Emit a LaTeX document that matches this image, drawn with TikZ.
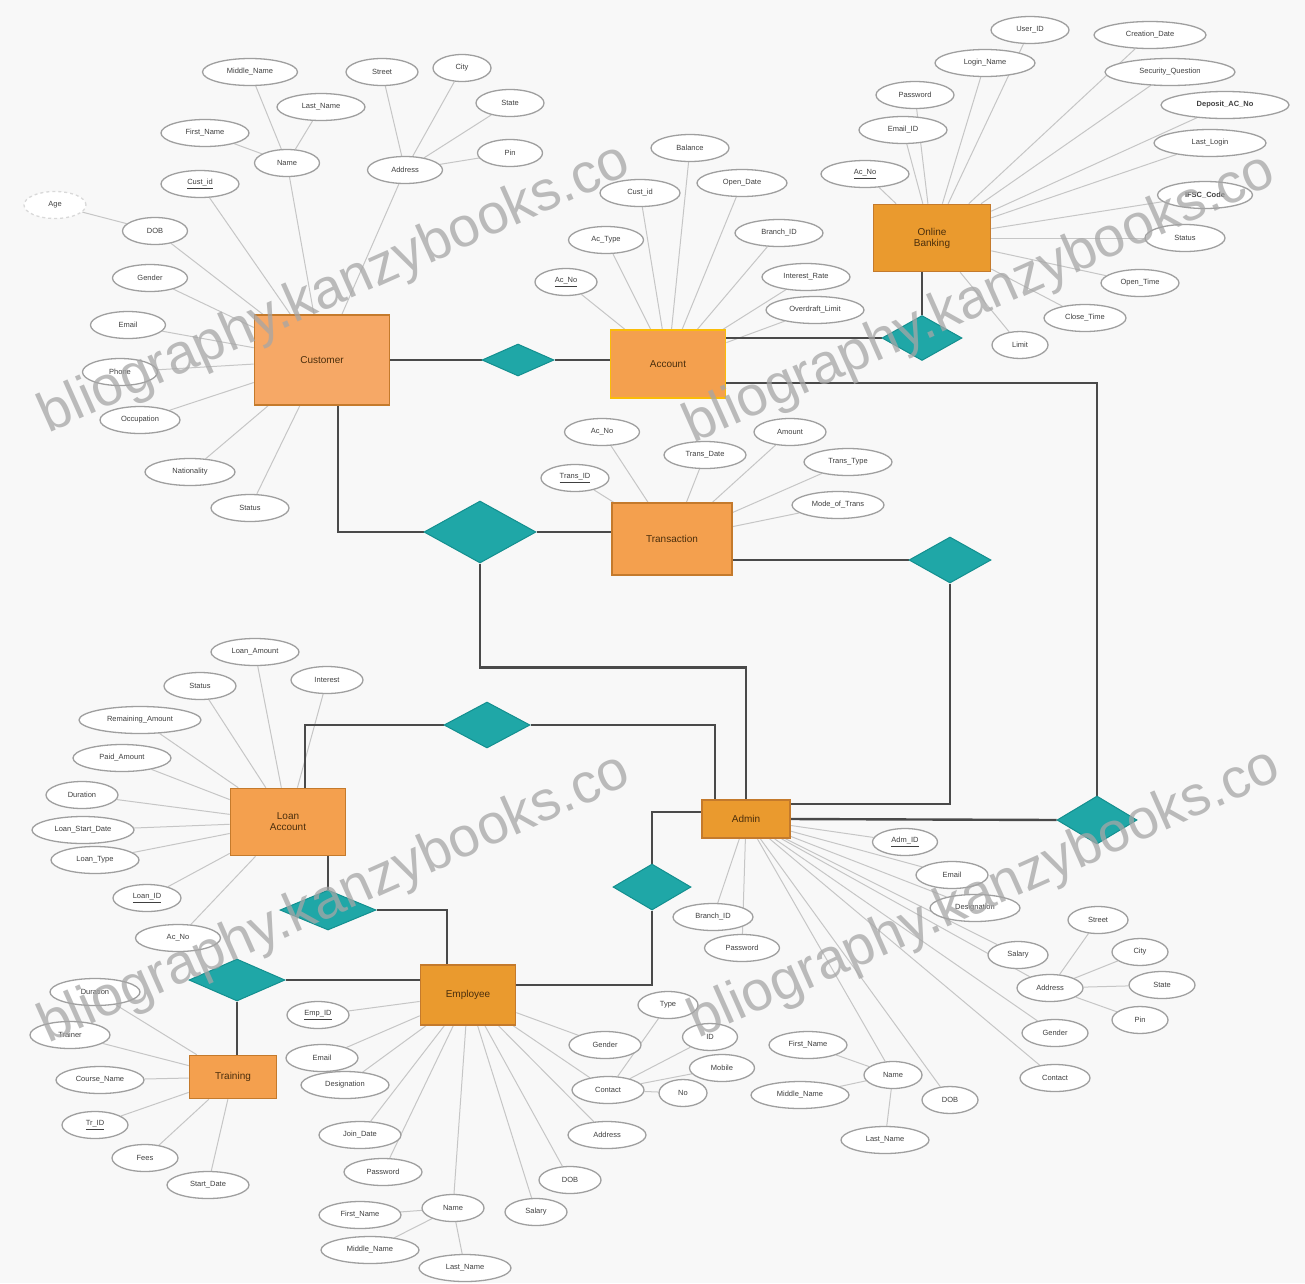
\documentclass[tikz,border=0pt]{standalone}
\usepackage{fontspec}
\setmainfont{Liberation Sans}
\setsansfont{Liberation Sans}
\usetikzlibrary{shapes.geometric}
\definecolor{bgc}{HTML}{F8F8F8}
\definecolor{relfill}{HTML}{1FA7A7}
\definecolor{reldraw}{HTML}{138F8F}
\definecolor{conn}{HTML}{4A4A4A}
\definecolor{entdraw}{HTML}{C47A2C}
\definecolor{entA}{HTML}{F6A866}
\definecolor{entB}{HTML}{F4A04E}
\definecolor{entC}{HTML}{EA9A2E}
\definecolor{enttext}{HTML}{4A2E0C}
\pgfdeclarelayer{bglayer}
\pgfdeclarelayer{linelayer}
\pgfsetlayers{bglayer,linelayer,main}
\tikzset{
  attr/.style={ellipse, draw=gray!75, line width=1.3pt, fill=white, minimum width=#1pt, minimum height=27pt, inner sep=0pt, font=\fontsize{7.5}{8}\selectfont, text=black!75},
  attr/.default=70,
  ent/.style={rectangle, draw=entdraw, line width=1.6pt, fill=entB, minimum width=#1pt, font=\fontsize{10}{11}\selectfont, text=enttext, align=center, inner sep=2pt},
  rel/.style={diamond, draw=reldraw, line width=1pt, fill=relfill, inner sep=0pt},
  conline/.style={draw=conn, line width=2.4pt},
  al/.style={draw=gray!45, line width=1pt},
  wm/.style={font=\fontsize{56}{60}\selectfont\sffamily, text=gray!70, opacity=0.75}
}
\begin{document}
\begin{tikzpicture}[x=1pt,y=-1pt]
\begin{pgfonlayer}{bglayer}
\fill[bgc] (0,0) rectangle (1305,1283);
\end{pgfonlayer}
\useasboundingbox (0,0) rectangle (1305,1283);

% ---------- entities ----------
\node[ent=135, minimum height=90pt, fill=entA] (cust) at (322,360) {Customer};
\node[ent=115, minimum height=68pt, fill=entB, draw=yellow!50!orange] (acc) at (668,364) {Account};
\node[ent=117, minimum height=67pt, fill=entC] (bank) at (932,238) {Online\\Banking};
\node[ent=120, minimum height=72pt, fill=entB] (trans) at (672,539) {Transaction};
\node[ent=115, minimum height=67pt, fill=entB] (loan) at (288,822) {Loan\\Account};
\node[ent=88, minimum height=38pt, fill=entC] (admin) at (746,819) {Admin};
\node[ent=95, minimum height=60pt, fill=entC] (emp) at (468,995) {Employee};
\node[ent=87, minimum height=43pt, fill=entB] (train) at (233,1077) {Training};

% ---------- relationships ----------
\node[rel, minimum width=72pt, minimum height=32pt] (d1) at (518,360) {};
\node[rel, minimum width=80pt, minimum height=45pt] (d2) at (922,338) {};
\node[rel, minimum width=112pt, minimum height=62pt] (d3) at (480,532) {};
\node[rel, minimum width=82pt, minimum height=46pt] (d4) at (950,560) {};
\node[rel, minimum width=86pt, minimum height=46pt] (d5) at (487,725) {};
\node[rel, minimum width=80pt, minimum height=48pt] (d6) at (1097,820) {};
\node[rel, minimum width=78pt, minimum height=46pt] (d7) at (652,887) {};
\node[rel, minimum width=96pt, minimum height=40pt] (d8) at (328,910) {};
\node[rel, minimum width=96pt, minimum height=42pt] (d9) at (237,980) {};

% ---------- Customer attributes ----------
\node[attr=65] (cname) at (287,163) {Name};
\node[attr=88] (cfn) at (205,133) {First\_Name};
\node[attr=95] (cmn) at (250,72) {Middle\_Name};
\node[attr=88] (cln) at (321,107) {Last\_Name};
\node[attr=75] (caddr) at (405,170) {Address};
\node[attr=72] (cst) at (382,72) {Street};
\node[attr=58] (ccity) at (462,68) {City};
\node[attr=68] (cstate) at (510,103) {State};
\node[attr=65] (cpin) at (510,153) {Pin};
\node[attr=78] (cid) at (200,184) {\underline{Cust\_id}};
\node[attr=65] (cdob) at (155,231) {DOB};
\node[attr=62, draw=gray!30, dashed] (cage) at (55,205) {Age};
\node[attr=75] (cgen) at (150,278) {Gender};
\node[attr=75] (cemail) at (128,325) {Email};
\node[attr=75] (cph) at (120,372) {Phone};
\node[attr=80] (cocc) at (140,420) {Occupation};
\node[attr=90] (cnat) at (190,472) {Nationality};
\node[attr=78] (cstat) at (250,508) {Status};

% ---------- Account attributes ----------
\node[attr=78] (abal) at (690,148) {Balance};
\node[attr=80] (acid) at (640,193) {Cust\_id};
\node[attr=90] (aopd) at (742,183) {Open\_Date};
\node[attr=75] (atype) at (606,240) {Ac\_Type};
\node[attr=88] (abr) at (779,233) {Branch\_ID};
\node[attr=62] (ano) at (566,282) {\underline{Ac\_No}};
\node[attr=88] (aint) at (806,277) {Interest\_Rate};
\node[attr=98] (aovd) at (815,310) {Overdraft\_Limit};

% ---------- Online Banking attributes ----------
\node[attr=78] (b1) at (1030,30) {User\_ID};
\node[attr=112] (b2) at (1150,35) {Creation\_Date};
\node[attr=100] (b3) at (985,63) {Login\_Name};
\node[attr=130] (b4) at (1170,72) {Security\_Question};
\node[attr=78] (b5) at (915,95) {Password};
\node[attr=128] (b6) at (1225,105) {\textbf{Deposit\_AC\_No}};
\node[attr=88] (b7) at (903,130) {Email\_ID};
\node[attr=112] (b8) at (1210,143) {Last\_Login};
\node[attr=88] (b9) at (865,174) {\underline{Ac\_No}};
\node[attr=95] (b10) at (1205,195) {\textbf{IFSC\_Code}};
\node[attr=80] (b11) at (1185,238) {Status};
\node[attr=78] (b12) at (1140,283) {Open\_Time};
\node[attr=82] (b13) at (1085,318) {Close\_Time};
\node[attr=56] (b14) at (1020,345) {Limit};

% ---------- Transaction attributes ----------
\node[attr=75] (tac) at (602,432) {Ac\_No};
\node[attr=72] (tamt) at (790,432) {Amount};
\node[attr=82] (tdate) at (705,455) {Trans\_Date};
\node[attr=68] (tid) at (575,478) {\underline{Trans\_ID}};
\node[attr=88] (ttype) at (848,462) {Trans\_Type};
\node[attr=92] (tmode) at (838,505) {Mode\_of\_Trans};

% ---------- Loan attributes ----------
\node[attr=88] (l1) at (255,652) {Loan\_Amount};
\node[attr=72] (l2) at (200,686) {Status};
\node[attr=72] (l3) at (327,680) {Interest};
\node[attr=122] (l4) at (140,720) {Remaining\_Amount};
\node[attr=98] (l5) at (122,758) {Paid\_Amount};
\node[attr=72] (l6) at (82,795) {Duration};
\node[attr=102] (l7) at (83,830) {Loan\_Start\_Date};
\node[attr=88] (l8) at (95,860) {Loan\_Type};
\node[attr=68] (l9) at (147,898) {\underline{Loan\_ID}};
\node[attr=85] (l10) at (178,938) {Ac\_No};

% ---------- Training attributes ----------
\node[attr=90] (r1) at (95,992) {Duration};
\node[attr=80] (r2) at (70,1035) {Trainer};
\node[attr=88] (r3) at (100,1080) {Course\_Name};
\node[attr=66] (r4) at (95,1125) {\underline{Tr\_ID}};
\node[attr=66] (r5) at (145,1158) {Fees};
\node[attr=82] (r6) at (208,1185) {Start\_Date};

% ---------- Employee attributes ----------
\node[attr=62] (e1) at (318,1015) {\underline{Emp\_ID}};
\node[attr=72] (e2) at (322,1058) {Email};
\node[attr=88] (e3) at (345,1085) {Designation};
\node[attr=82] (e4) at (360,1135) {Join\_Date};
\node[attr=78] (e5) at (383,1172) {Password};
\node[attr=62] (en) at (453,1208) {Name};
\node[attr=82] (efn) at (360,1215) {First\_Name};
\node[attr=98] (emn) at (370,1250) {Middle\_Name};
\node[attr=92] (eln) at (465,1268) {Last\_Name};
\node[attr=62] (e6) at (536,1212) {Salary};
\node[attr=62] (e7) at (570,1180) {DOB};
\node[attr=78] (e8) at (607,1135) {Address};
\node[attr=72] (e9) at (608,1090) {Contact};
\node[attr=72] (e10) at (605,1045) {Gender};
\node[attr=60] (ec1) at (668,1005) {Type};
\node[attr=55] (ec2) at (710,1037) {ID};
\node[attr=65] (ec3) at (722,1068) {Mobile};
\node[attr=48] (ec4) at (683,1093) {No};

% ---------- Admin attributes ----------
\node[attr=65] (m1) at (905,842) {\underline{Adm\_ID}};
\node[attr=72] (m2) at (952,875) {Email};
\node[attr=90] (m3) at (975,908) {Designation};
\node[attr=60] (m4) at (1018,955) {Salary};
\node[attr=66] (maddr) at (1050,988) {Address};
\node[attr=60] (mst) at (1098,920) {Street};
\node[attr=56] (mcity) at (1140,952) {City};
\node[attr=66] (mstate) at (1162,985) {State};
\node[attr=56] (mpin) at (1140,1020) {Pin};
\node[attr=66] (m5) at (1055,1033) {Gender};
\node[attr=70] (m6) at (1055,1078) {Contact};
\node[attr=56] (m7) at (950,1100) {DOB};
\node[attr=58] (mname) at (893,1075) {Name};
\node[attr=78] (mfn) at (808,1045) {First\_Name};
\node[attr=98] (mmn) at (800,1095) {Middle\_Name};
\node[attr=88] (mln) at (885,1140) {Last\_Name};
\node[attr=80] (m8) at (713,917) {Branch\_ID};
\node[attr=75] (m9) at (742,948) {Password};

% ---------- attribute lines ----------
\begin{pgfonlayer}{linelayer}
\foreach \a in {cname,caddr,cid,cdob,cgen,cemail,cph,cocc,cnat,cstat} \draw[al] (\a) -- (cust);
\foreach \a in {cfn,cmn,cln} \draw[al] (\a) -- (cname);
\foreach \a in {cst,ccity,cstate,cpin} \draw[al] (\a) -- (caddr);
\draw[al] (cage) -- (cdob);
\foreach \a in {abal,acid,aopd,atype,abr,ano,aint,aovd} \draw[al] (\a) -- (acc);
\foreach \a in {b1,b2,b3,b4,b5,b6,b7,b8,b9,b10,b11,b12,b13,b14} \draw[al] (\a) -- (bank);
\foreach \a in {tac,tamt,tdate,tid,ttype,tmode} \draw[al] (\a) -- (trans);
\foreach \a in {l1,l2,l3,l4,l5,l6,l7,l8,l9,l10} \draw[al] (\a) -- (loan);
\foreach \a in {r1,r2,r3,r4,r5,r6} \draw[al] (\a) -- (train);
\foreach \a in {e1,e2,e3,e4,e5,en,e6,e7,e8,e9,e10} \draw[al] (\a) -- (emp);
\foreach \a in {efn,emn,eln} \draw[al] (\a) -- (en);
\foreach \a in {ec1,ec2,ec3,ec4} \draw[al] (\a) -- (e9);
\foreach \a in {m1,m2,m3,m4,maddr,m5,m6,m7,mname,m8,m9} \draw[al] (\a) -- (admin);
\foreach \a in {mst,mcity,mstate,mpin} \draw[al] (\a) -- (maddr);
\foreach \a in {mfn,mmn,mln} \draw[al] (\a) -- (mname);

% ---------- relationship connectors ----------
\draw[conline] (cust.east) -- (d1.west);
\draw[conline] (d1.east) -- (acc.west |- d1.east);
\draw[conline] (acc.east |- d2.west) -- (d2.west);
\draw[conline] (d2.north) -- (d2.north |- bank.south);
\draw[conline] ([yshift=-19pt]acc.east) -| (d6.north);
\draw[conline] ([xshift=16pt]cust.south) |- (d3.west);
\draw[conline] (d3.east) -- (trans.west |- d3.east);
\draw[conline] (d3.south) -- ++(0,104) -| (admin.north);
\draw[conline] (trans.east |- d4.west) -- (d4.west);
\draw[conline] (d4.south) |- ([yshift=15pt]admin.east);
\draw[conline] ([xshift=17pt]loan.north) |- (d5.west);
\draw[conline] (d5.east) -| ([xshift=-31pt]admin.north);
\draw[conline] (admin.east) -- (d6.west);
\draw[conline] ([yshift=7pt]admin.west) -| (d7.north);
\draw[conline] (d7.south) |- ([yshift=10pt]emp.east);
\draw[conline] (d8.north |- loan.south) -- (d8.north);
\draw[conline] (d8.east) -| ([xshift=-21pt]emp.north);
\draw[conline] (d9.east) -- (emp.west |- d9.east);
\draw[conline] (d9.south) -- (d9.south |- train.north);
\end{pgfonlayer}

% ---------- watermark ----------
\node[wm, rotate=24] (w1) at (335,290) {bliography.kanzybooks.co};
\node[wm, rotate=24] (w2) at (980,300) {bliography.kanzybooks.co};
\node[wm, rotate=24] (w3) at (335,900) {bliography.kanzybooks.co};
\node[wm, rotate=24] (w4) at (985,895) {bliography.kanzybooks.co};
\end{tikzpicture}
\end{document}
